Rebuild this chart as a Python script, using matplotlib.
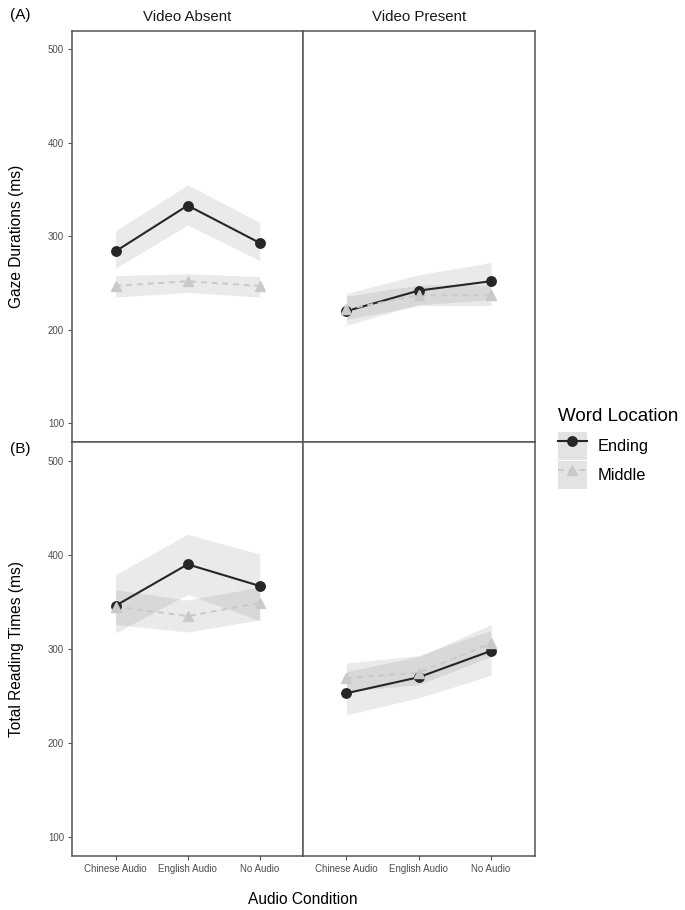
import matplotlib
matplotlib.use("Agg")
import matplotlib.pyplot as plt
from matplotlib.lines import Line2D
from matplotlib.patches import Patch

plt.rcParams['font.family'] = ['Liberation Sans', 'DejaVu Sans']

conditions = ["Chinese Audio", "English Audio", "No Audio"]
panels = ["Video Absent", "Video Present"]
series = ["Ending", "Middle"]
yticks = [100, 200, 300, 400, 500]

# (A) Gaze durations
gaze_ending_absent = [284, 333, 293]
gaze_ending_absent_lo = [266, 312, 274]
gaze_ending_absent_hi = [306, 355, 315]
gaze_middle_absent = [247, 252, 247]
gaze_middle_absent_lo = [235, 240, 235]
gaze_middle_absent_hi = [258, 260, 257]

gaze_ending_present = [220, 242, 252]
gaze_ending_present_lo = [205, 227, 232]
gaze_ending_present_hi = [239, 259, 272]
gaze_middle_present = [222, 237, 237]
gaze_middle_present_lo = [211, 226, 226]
gaze_middle_present_hi = [236, 248, 248]

# (B) Total reading times
trt_ending_absent = [346, 390, 367]
trt_ending_absent_lo = [317, 358, 330]
trt_ending_absent_hi = [379, 422, 401]
trt_middle_absent = [345, 335, 349]
trt_middle_absent_lo = [326, 318, 331]
trt_middle_absent_hi = [363, 352, 366]

trt_ending_present = [253, 270, 298]
trt_ending_present_lo = [230, 248, 272]
trt_ending_present_hi = [276, 292, 326]
trt_middle_present = [269, 275, 306]
trt_middle_present_lo = [255, 262, 292]
trt_middle_present_hi = [285, 293, 320]

data = {
    (0, 0): [(gaze_ending_absent, gaze_ending_absent_lo, gaze_ending_absent_hi),
             (gaze_middle_absent, gaze_middle_absent_lo, gaze_middle_absent_hi)],
    (0, 1): [(gaze_ending_present, gaze_ending_present_lo, gaze_ending_present_hi),
             (gaze_middle_present, gaze_middle_present_lo, gaze_middle_present_hi)],
    (1, 0): [(trt_ending_absent, trt_ending_absent_lo, trt_ending_absent_hi),
             (trt_middle_absent, trt_middle_absent_lo, trt_middle_absent_hi)],
    (1, 1): [(trt_ending_present, trt_ending_present_lo, trt_ending_present_hi),
             (trt_middle_present, trt_middle_present_lo, trt_middle_present_hi)],
}

styles = {
    "Ending": dict(color='#262626', ls='-', lw=1.5, marker='o', ms=6.8),
    "Middle": dict(color='#c9c9c9', ls=(0, (3, 2.5)), lw=1.4, marker='^', ms=7.5),
}

W, H = 685, 910
fig = plt.figure(figsize=(W / 100, H / 100), dpi=100)

col_x = [(72.3, 303.0), (303.0, 534.5)]
row_y = [(30.7, 442.0), (442.0, 856.0)]

TICK_C = '#4d4d4d'
SPINE_C = '#555555'
x = list(range(len(conditions)))

axes = {}
for r in range(2):
    for c in range(2):
        x0, x1 = col_x[c]
        y0, y1 = row_y[r]
        ax = fig.add_axes([x0 / W, 1 - y1 / H, (x1 - x0) / W, (y1 - y0) / H])
        axes[(r, c)] = ax
        # ribbons
        for (vals, lo, hi) in data[(r, c)]:
            ax.fill_between(x, lo, hi, color='#808080', alpha=0.16, lw=0, zorder=1)
        # lines
        for name, (vals, lo, hi) in zip(series, data[(r, c)]):
            st = styles[name]
            ax.plot(x, vals, color=st['color'], ls=st['ls'], lw=st['lw'], zorder=2)
        # points
        for name, (vals, lo, hi) in zip(series, data[(r, c)]):
            st = styles[name]
            ax.plot(x, vals, ls='none', marker=st['marker'], ms=st['ms'],
                    color=st['color'], mec=st['color'], zorder=3)
        ax.set_xlim(-0.6, 2.6)
        ax.set_ylim(80, 520)
        ax.set_xticks(x)
        ax.set_yticks(yticks)
        for sp in ax.spines.values():
            sp.set_color(SPINE_C)
            sp.set_linewidth(1.1)
        ax.tick_params(axis='both', colors=SPINE_C, length=3, width=0.8,
                       labelsize=7, labelcolor=TICK_C, pad=3)
        if r == 1:
            ax.set_xticklabels(conditions)
        else:
            ax.set_xticklabels([])
        if c == 1:
            ax.tick_params(axis='y', left=False, labelleft=False)
        if r == 0:
            ax.set_title(panels[c], fontsize=10.8, color='#1a1a1a', pad=7)

fig.text(10 / W, 1 - 15 / H, "(A)", fontsize=11, ha='left', va='center')
fig.text(10 / W, 1 - 449 / H, "(B)", fontsize=11, ha='left', va='center')

fig.text(17 / W, 1 - 236 / H, "Gaze Durations (ms)", rotation=90,
         fontsize=11.2, ha='center', va='center')
fig.text(17 / W, 1 - 649 / H, "Total Reading Times (ms)", rotation=90,
         fontsize=11.2, ha='center', va='center')
fig.text(303 / W, 1 - 900 / H, "Audio Condition", fontsize=11.2,
         ha='center', va='center')

handles = []
for name in series:
    st = styles[name]
    handles.append((Patch(facecolor='#e3e3e3', edgecolor='none'),
                    Line2D([], [], color=st['color'], ls=st['ls'], lw=st['lw'],
                           marker=st['marker'], ms=st['ms'], mec=st['color'])))
leg = fig.legend(handles, series, loc='upper left',
                 bbox_to_anchor=(553 / W, 1 - 403 / H),
                 title="Word Location", title_fontsize=13.5, fontsize=11.8,
                 frameon=False, alignment='left', handlelength=1.75,
                 handleheight=2.25, labelspacing=0.05, handletextpad=0.7,
                 borderaxespad=0, borderpad=0.3)
leg._legend_box.sep = 5.0

fig.savefig("out.png", dpi=100)
